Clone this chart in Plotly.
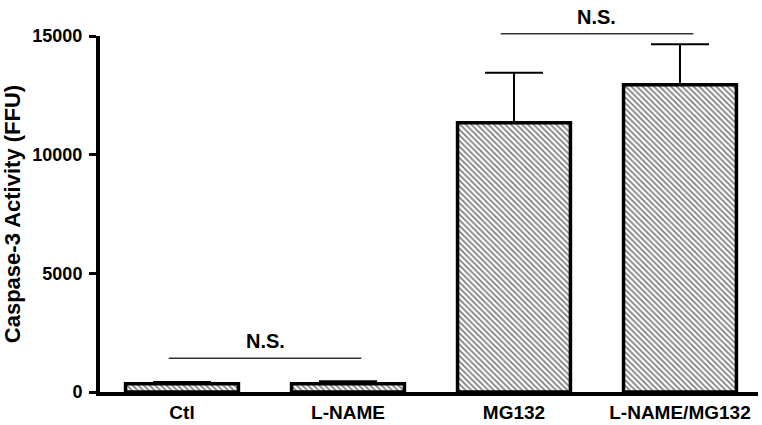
import plotly.graph_objects as go

categories = ["Ctl", "L-NAME", "MG132", "L-NAME/MG132"]
means = [350, 350, 11350, 12950]
errors = [70, 100, 2100, 1700]

y_ticks = [0, 5000, 10000, 15000]
y_max = 15000

# significance brackets: (start index, end index, y value, label)
brackets = [(0, 1, 1420, "N.S."), (2, 3, 15100, "N.S.")]

font_family = "Liberation Sans, Arial, sans-serif"

fig = go.Figure()
fig.add_trace(go.Bar(
    x=categories,
    y=means,
    width=0.68,
    marker=dict(
        color="white",
        line=dict(color="black", width=3.5),
        pattern=dict(shape="\\", fgcolor="black", bgcolor="white", size=4, solidity=0.45),
    ),
    error_y=dict(type="data", symmetric=False, array=errors, arrayminus=[0] * len(errors),
                 color="black", thickness=2, width=29),
    showlegend=False,
    hoverinfo="skip",
))

for i0, i1, yv, label in brackets:
    x0 = i0 - 0.5 + 0.42
    x1 = i1 + 0.5 - 0.42
    fig.add_shape(type="line", xref="x", yref="paper", x0=x0, x1=x1,
                  y0=yv / y_max, y1=yv / y_max, line=dict(color="#333333", width=1.5))
    fig.add_annotation(x=(i0 + i1) / 2, y=yv / y_max, xref="x", yref="paper",
                       text="<b>%s</b>" % label, showarrow=False, yanchor="bottom", yshift=4,
                       font=dict(family=font_family, size=20, color="black"))

fig.update_layout(
    width=762, height=425,
    margin=dict(l=100, r=4, t=36, b=33),
    plot_bgcolor="white", paper_bgcolor="white",
    font=dict(family=font_family, color="black"),
)
fig.update_xaxes(
    range=[-0.494, 3.47], automargin=False,
    showline=True, linecolor="black", linewidth=4,
    ticks="", showgrid=False, zeroline=False,
    tickfont=dict(family=font_family, size=19, color="black", weight="bold"),
)
fig.update_yaxes(
    range=[0, y_max], automargin=False,
    tickvals=y_ticks, ticktext=[str(v) for v in y_ticks],
    showline=True, linecolor="black", linewidth=4,
    ticks="outside", ticklen=7, tickwidth=3, tickcolor="black",
    ticklabelstandoff=3,
    showgrid=False, zeroline=False,
    tickfont=dict(family=font_family, size=18, color="black", weight="bold"),
    title=dict(text="<b>Caspase-3 Activity (FFU)</b>", font=dict(family=font_family, size=22, color="black"), standoff=10),
)

fig.write_html(
    "out.html",
    config={"displayModeBar": False},
    post_script="document.body.style.margin='0';document.body.style.overflow='hidden';",
)
